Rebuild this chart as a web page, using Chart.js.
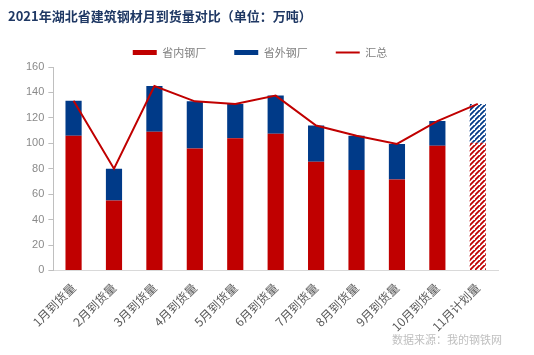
<!DOCTYPE html>
<html>
<head>
<meta charset="utf-8">
<script src="https://cdn.jsdelivr.net/npm/chart.js@4/dist/chart.umd.min.js"></script>
<style>
html,body{margin:0;padding:0;background:#fff;}
#wrap{width:534px;height:355px;position:relative;}
</style>
</head>
<body>
<div id="wrap"><canvas id="c" width="534" height="355"></canvas></div>
<script>
const titleText = '2021年湖北省建筑钢材月到货量对比（单位：万吨）';
const sourceText = '数据来源：我的钢铁网';
const categories = ['1月到货量','2月到货量','3月到货量','4月到货量','5月到货量','6月到货量','7月到货量','8月到货量','9月到货量','10月到货量','11月计划量'];
const seriesNames = ['省内钢厂','省外钢厂','汇总'];
const innerValues = [106, 55, 109, 96, 104, 107.5, 85.5, 79, 71.5, 98, 100.5];
const outerValues = [27.5, 25, 36, 37, 27, 30, 28.5, 27, 28, 19.5, 30.5];
const totalValues = [133.5, 80, 145, 133, 131, 137.5, 114, 106, 99.5, 117.5, 131];
const plannedIndex = 10;

const RED = '#C00000';
const BLUE = '#003A88';

function hatch(color){
  const s = 5;
  const p = document.createElement('canvas');
  p.width = s; p.height = s;
  const g = p.getContext('2d');
  g.strokeStyle = color;
  g.lineWidth = 1.8;
  g.beginPath();
  g.moveTo(-1, s + 1); g.lineTo(s + 1, -1);
  g.moveTo(-1 - s, s + 1); g.lineTo(1, -1);
  g.moveTo(s - 1, 2 * s + 1); g.lineTo(2 * s + 1, s - 1);
  g.stroke();
  return g.createPattern(p, 'repeat');
}
const ctx0 = document.getElementById('c').getContext('2d');
const redFill = categories.map((c,i)=> i===plannedIndex ? hatch(RED) : RED);
const blueFill = categories.map((c,i)=> i===plannedIndex ? hatch(BLUE) : BLUE);

const FONT = '"Noto Sans CJK SC", "Liberation Sans", sans-serif';

const legendFitHack = {
  id: 'legendFitHack',
  beforeInit(chart){
    const lg = chart.legend;
    const orig = lg.fit;
    lg.fit = function(){ orig.call(this); this.height = this.height - 1; };
  }
};
const textPlugin = {
  id: 'texts',
  afterDraw(chart){
    const c = chart.ctx;
    c.save();
    c.font = 'bold 13px ' + FONT;
    c.fillStyle = '#1F3864';
    c.textBaseline = 'middle';
    c.textAlign = 'left';
    c.fillText(titleText, 8, 16);
    c.font = '11px ' + FONT;
    c.fillStyle = '#BFBFBF';
    c.textAlign = 'right';
    c.fillText(sourceText, 502, 340);
    c.restore();
  }
};

new Chart(ctx0, {
  type: 'bar',
  data: {
    labels: categories,
    datasets: [
      { type:'bar', label: seriesNames[0], data: innerValues, backgroundColor: redFill, borderWidth:0, stack:'s', order:1, barPercentage:0.4, categoryPercentage:1, pointStyle:'rect' },
      { type:'bar', label: seriesNames[1], data: outerValues, backgroundColor: blueFill, borderWidth:0, stack:'s', order:1, barPercentage:0.4, categoryPercentage:1, pointStyle:'rect' },
      { type:'line', label: seriesNames[2], data: totalValues, borderColor: RED, backgroundColor: RED, borderWidth:2, pointRadius:0, pointStyle:'line', tension:0, order:0, stack:'l' }
    ]
  },
  options: {
    responsive: false,
    animation: false,
    layout: { padding: { top: 19, left: 22, right: 36, bottom: 19 } },
    plugins: {
      tooltip: { enabled:false },
      title: { display:false },
      legend: {
        position:'top',
        labels: {
          usePointStyle: true,
          pointStyleWidth: 24,
          boxHeight: 5,
          padding: 28,
          color: '#7F7F7F',
          font: { family: FONT, size: 11 },
          sort: (a,b)=> a.datasetIndex - b.datasetIndex
        }
      }
    },
    scales: {
      x: {
        stacked: true,
        grid: { display:false },
        border: { display:true, color:'#D9D9D9', width:1 },
        ticks: { color:'#595959', font:{ family: FONT, size: 12 }, minRotation:45, maxRotation:45, padding:2 }
      },
      y: {
        stacked: true,
        min: 0, max: 160,
        grid: { drawOnChartArea:false, drawTicks:true, tickLength:5, color:'#BFBFBF' },
        border: { display:true, color:'#BFBFBF', width:1 },
        ticks: { stepSize:20, color:'#8A8A8A', font:{ family:'"Liberation Sans", sans-serif', size: 11 }, padding:4 }
      }
    }
  },
  plugins: [legendFitHack, textPlugin]
});
</script>
</body>
</html>
